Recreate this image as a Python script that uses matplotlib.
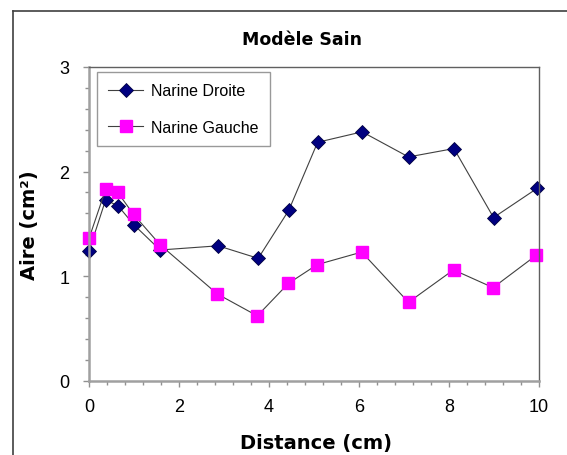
import matplotlib.pyplot as plt
from matplotlib.lines import Line2D
from matplotlib.ticker import MultipleLocator

plt.rcParams['font.family'] = ['Liberation Sans', 'DejaVu Sans']

# Narine Droite
droite_x = [0.0, 0.37, 0.65, 1.0, 1.58, 2.87, 3.76, 4.44, 5.08, 6.07, 7.10, 8.11, 8.99, 9.96]
droite_y = [1.24, 1.73, 1.67, 1.49, 1.25, 1.29, 1.17, 1.63, 2.28, 2.38, 2.14, 2.22, 1.56, 1.84]

# Narine Gauche
gauche_x = [0.0, 0.37, 0.64, 0.99, 1.58, 2.85, 3.74, 4.43, 5.07, 6.06, 7.10, 8.10, 8.98, 9.94]
gauche_y = [1.36, 1.83, 1.80, 1.59, 1.30, 0.83, 0.62, 0.93, 1.11, 1.23, 0.75, 1.06, 0.89, 1.20]

fig = plt.figure(figsize=(5.67, 4.56), dpi=100)
ax = fig.add_axes([89 / 567, 1 - 381.7 / 456, 450 / 567, 313.7 / 456])

ax.plot(droite_x, droite_y, color='#404040', linewidth=0.8, marker='D',
        markersize=7, markerfacecolor='#000080', markeredgecolor='#000040',
        markeredgewidth=0.6, label='Narine Droite', clip_on=False)
ax.plot(gauche_x, gauche_y, color='#404040', linewidth=0.8, marker='s',
        markersize=8.5, markerfacecolor='#ff00ff', markeredgecolor='#ff00ff',
        label='Narine Gauche', clip_on=False)

ax.set_xlim(0, 10)
ax.set_ylim(0, 3)
ax.xaxis.set_major_locator(MultipleLocator(2))
ax.xaxis.set_minor_locator(MultipleLocator(0.4))
ax.yaxis.set_major_locator(MultipleLocator(1))
ax.yaxis.set_minor_locator(MultipleLocator(0.2))

ax.tick_params(which='major', direction='out', length=4.5, width=1, color='#909090',
               labelsize=13, pad=8)
ax.tick_params(axis='y', which='major', pad=9.5)
ax.tick_params(which='minor', direction='out', length=3, width=1, color='#909090')

for s in ['left', 'bottom']:
    ax.spines[s].set_color('#a0a0a0')
    ax.spines[s].set_linewidth(1.8)
for s in ['top', 'right']:
    ax.spines[s].set_color('#606060')
    ax.spines[s].set_linewidth(1.0)

# title and axis labels placed in figure pixels
fig.text(302 / 567, 1 - 45 / 456, 'Modèle Sain', family='DejaVu Sans', fontsize=12.5,
         fontweight='bold', ha='center', va='baseline')
fig.text(316 / 567, 1 - 449 / 456, 'Distance (cm)', family='DejaVu Sans', fontsize=14,
         fontweight='bold', ha='center', va='baseline')
fig.text(30 / 567, 1 - 225 / 456, 'Aire (cm²)', family='DejaVu Sans', fontsize=14,
         fontweight='bold', ha='center', va='center', rotation=90)

leg = ax.legend(loc='upper left', bbox_to_anchor=(8 / 450, 1 - 5 / 313.7),
                fontsize=11.5, frameon=True, fancybox=False, borderpad=0.7,
                labelspacing=1.35, handlelength=2.2, handletextpad=0.5,
                borderaxespad=0)
leg.get_frame().set_edgecolor('#808080')
leg.get_frame().set_linewidth(1.0)

# outer chart frame
fig.add_artist(Line2D([13 / 567, 13 / 567], [0, 1 - 12 / 456], color='#404040', linewidth=1.2))
fig.add_artist(Line2D([13 / 567, 1], [1 - 12 / 456, 1 - 12 / 456], color='#404040', linewidth=1.2))

fig.savefig('out.png', dpi=100)
